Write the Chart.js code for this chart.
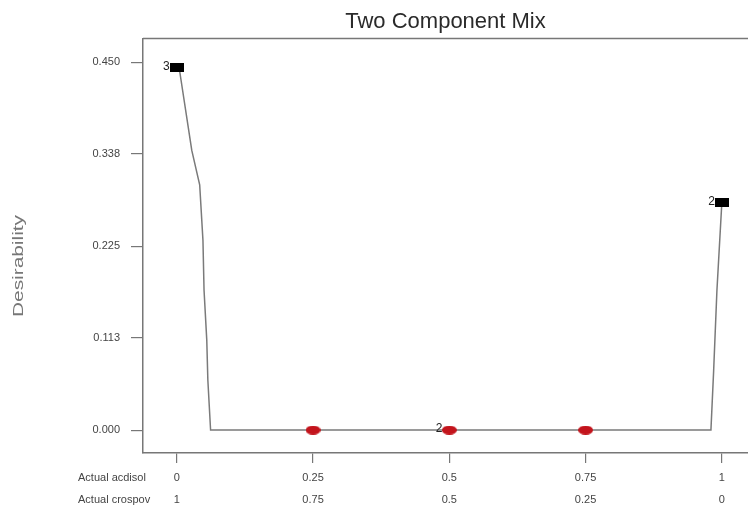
<!DOCTYPE html>
<html><head><meta charset="utf-8">
<script src="https://cdn.jsdelivr.net/npm/chart.js@4"></script>
<style>html,body{margin:0;padding:0;background:#fff;} #wrap{width:748px;height:509px;}</style>
</head><body><div id="wrap"><canvas id="c" width="748" height="509"></canvas></div>
<script>
const chartTitle = 'Two Component Mix';
const yTitle = 'Desirability';
const xRowNames = ['Actual acdisol', 'Actual crospov'];
const xTickValues = [0, 0.25, 0.5, 0.75, 1];
const acdisolTicks = ['0', '0.25', '0.5', '0.75', '1'];
const crospovTicks = ['1', '0.75', '0.5', '0.25', '0'];
const yTickValues = [0, 0.113, 0.225, 0.338, 0.450];
const curveX = [0, 0.0055, 0.0275, 0.042, 0.048, 0.050, 0.055, 0.057, 0.062, 0.980, 0.985, 0.991, 1.0];
const curveY = [0.443, 0.438, 0.342, 0.300, 0.232, 0.171, 0.110, 0.061, 0, 0, 0.073, 0.171, 0.278];
const squareX = [0, 1];
const squareY = [0.443, 0.278];
const dotX = [0.25, 0.5, 0.75];
const dotY = [0, 0, 0];
const countText = ['3', '2', '2'];
const countX = [0, 1, 0.5];
const countY = [0.443, 0.278, 0];

const FONT = '"Liberation Sans", Arial, sans-serif';

function markerImage(w, h, color, ellipse) {
  const c = document.createElement('canvas');
  c.width = w; c.height = h;
  const g = c.getContext('2d');
  g.fillStyle = color;
  if (ellipse) { g.beginPath(); g.ellipse(w / 2, h / 2, w / 2, h / 2, 0, 0, Math.PI * 2); g.fill(); }
  else g.fillRect(0, 0, w, h);
  return c;
}
const squareImg = markerImage(14, 9, '#000000', false);
const dotImg = markerImage(15, 9, '#c3141c', true);

const extras = {
  id: 'extras',
  afterDraw(chart) {
    const ctx = chart.ctx, a = chart.chartArea, xs = chart.scales.x, ys = chart.scales.y;
    ctx.save();
    ctx.strokeStyle = '#777'; ctx.lineWidth = 1.5;
    ctx.beginPath(); ctx.moveTo(a.left, a.top); ctx.lineTo(a.right, a.top); ctx.stroke();
    ctx.fillStyle = '#444';
    ctx.font = '11px ' + FONT;
    ctx.textAlign = 'left'; ctx.textBaseline = 'middle';
    ctx.fillText(xRowNames[0], 78, 478);
    ctx.fillText(xRowNames[1], 78, 500);
    ctx.save();
    ctx.font = '15px ' + FONT;
    const w = ctx.measureText(yTitle).width;
    ctx.translate(19, 266); ctx.rotate(-Math.PI / 2);
    ctx.scale(102 / w, 1);
    ctx.textAlign = 'center'; ctx.fillStyle = '#777';
    ctx.fillText(yTitle, 0, 0);
    ctx.restore();
    ctx.fillStyle = '#222'; ctx.font = '12px ' + FONT;
    ctx.textAlign = 'right';
    countText.forEach((t, i) => {
      ctx.fillText(t, xs.getPixelForValue(countX[i]) - 7, ys.getPixelForValue(countY[i]) - 1);
    });
    ctx.restore();
  }
};

new Chart(document.getElementById('c'), {
  type: 'scatter',
  data: {
    datasets: [
      { data: squareX.map((x, i) => ({ x, y: squareY[i] })), pointStyle: squareImg, pointRadius: 7, order: 1 },
      { data: dotX.map((x, i) => ({ x, y: dotY[i] })), pointStyle: dotImg, pointRadius: 7, order: 1 },
      { data: curveX.map((x, i) => ({ x, y: curveY[i] })), showLine: true, pointRadius: 0,
        borderColor: '#7a7a7a', borderWidth: 1.5, tension: 0, order: 2 }
    ]
  },
  options: {
    responsive: false, animation: false, devicePixelRatio: 1,
    layout: { padding: 0, autoPadding: false },
    plugins: {
      legend: { display: false }, tooltip: { enabled: false },
      title: { display: true, text: chartTitle, fullSize: false, color: '#2a2a2a',
        font: { family: FONT, size: 22, weight: 'normal' }, padding: { top: 9, bottom: 3 } }
    },
    scales: {
      x: {
        type: 'linear', min: -0.062, max: 1.048,
        afterBuildTicks: s => { s.ticks = xTickValues.map(v => ({ value: v })); },
        afterFit: s => { s.height = 56; s.paddingLeft = 0; s.paddingRight = 0; },
        grid: { display: true, drawOnChartArea: false, drawTicks: true, tickLength: 10, color: '#777', lineWidth: 1.2 },
        border: { display: true, color: '#777', width: 1.5 },
        ticks: { autoSkip: false, maxRotation: 0, padding: 4, color: '#444',
          font: { family: FONT, size: 11, lineHeight: '22px' },
          callback: (v, i) => [acdisolTicks[i], crospovTicks[i]] }
      },
      y: {
        min: -0.028, max: 0.479,
        afterBuildTicks: s => { s.ticks = yTickValues.map(v => ({ value: v })); },
        afterFit: s => { s.width = 143; s.paddingTop = 0; s.paddingBottom = 0; },
        grid: { display: true, drawOnChartArea: false, drawTicks: true, tickLength: 12, color: '#777', lineWidth: 1.2 },
        border: { display: true, color: '#777', width: 1.5 },
        ticks: { padding: 11, color: '#444', font: { family: FONT, size: 11 },
          callback: v => Number(v).toFixed(3) }
      }
    }
  },
  plugins: [extras]
});
</script></body></html>
